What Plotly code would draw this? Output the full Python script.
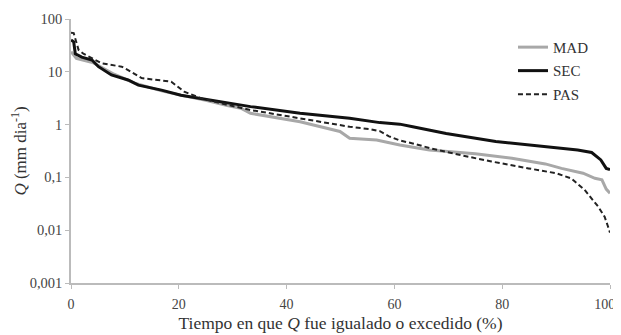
import plotly.graph_objects as go

# Percent of time Q was equalled or exceeded
sec_x = [0, 0.5, 0.8, 2, 3.9, 5.1, 7.5, 10.6, 12.5, 16.8, 20.4, 24.1, 26, 33.3, 42.5, 51.7, 57.3, 61, 63.4, 69.6, 78.8, 88, 94, 96.6, 98.3, 99.3, 100]
sec_q = [40, 37, 22, 19, 16.7, 12.5, 8.7, 7.0, 5.6, 4.5, 3.6, 3.15, 2.9, 2.19, 1.64, 1.32, 1.09, 1.02, 0.91, 0.68, 0.48, 0.38, 0.33, 0.296, 0.214, 0.148, 0.14]

mad_x = [0, 0.5, 1, 4, 8, 12, 17, 21, 25, 29, 31.5, 33.3, 42.5, 49.9, 51.7, 56.7, 61, 66.5, 75, 81.8, 88, 91, 95, 97.2, 98.5, 99.3, 100]
mad_q = [24, 21, 18, 15, 9, 6, 4.3, 3.5, 2.9, 2.3, 2.04, 1.64, 1.13, 0.74, 0.55, 0.51, 0.41, 0.33, 0.28, 0.23, 0.18, 0.148, 0.12, 0.096, 0.09, 0.06, 0.05]

pas_x = [0, 0.5, 1.4, 2.3, 5.7, 9.4, 10.6, 13.1, 18.6, 21, 24.1, 28, 33.3, 42.5, 51.7, 55.5, 57.3, 59, 61, 63.4, 67, 72.6, 78, 84.9, 90, 92.8, 95.3, 97.8, 99, 99.6, 100]
pas_q = [55, 54, 26, 22, 14.5, 12.5, 10.8, 7.6, 6.5, 4.2, 3.16, 2.5, 1.89, 1.32, 0.91, 0.82, 0.75, 0.6, 0.5, 0.44, 0.35, 0.26, 0.2, 0.148, 0.12, 0.096, 0.058, 0.028, 0.018, 0.012, 0.009]

y_tickvals = [0.001, 0.01, 0.1, 1, 10, 100]
y_ticktext = ["0,001", "0,01", "0,1", "1", "10", "100"]
x_tickvals = [0, 20, 40, 60, 80, 100]
x_ticktext = ["0", "20", "40", "60", "80", "100\u00a0\u00a0\u00a0"]

fig = go.Figure()
fig.add_trace(go.Scatter(x=mad_x, y=mad_q, mode="lines", name="MAD", legendgroup="a",
                         line=dict(color="#a8a8a8", width=3)))
fig.add_trace(go.Scatter(x=sec_x, y=sec_q, mode="lines", name="SEC", legendgroup="b",
                         line=dict(color="#111111", width=3)))
fig.add_trace(go.Scatter(x=pas_x, y=pas_q, mode="lines", name="PAS", legendgroup="c",
                         line=dict(color="#222222", width=2, dash="5px,3px")))

font_family = "Liberation Serif, Times New Roman, serif"
fig.update_layout(
    width=613, height=327,
    margin=dict(l=63, r=11, t=11, b=52, autoexpand=False),
    paper_bgcolor="white", plot_bgcolor="white",
    font=dict(family=font_family, size=14, color="#444444"),
    legend=dict(x=0.82, y=0.955, xanchor="left", yanchor="top",
                font=dict(family=font_family, size=15, color="#333333"),
                bgcolor="rgba(0,0,0,0)", tracegroupgap=1),
    showlegend=True,
)
fig.update_xaxes(range=[0, 100], tickvals=x_tickvals, ticktext=x_ticktext,
                 showgrid=False, zeroline=False,
                 automargin=False, ticklabeloverflow="allow",
                 showline=True, linecolor="#bbbbbb", linewidth=1.5,
                 ticks="outside", ticklen=4, tickcolor="#bbbbbb",
                 ticklabelstandoff=3,
                 tickfont=dict(family=font_family, size=14, color="#444444"),
                 title=dict(text="Tiempo en que <i>Q</i> fue igualado o excedido (%)",
                            font=dict(family=font_family, size=17.5, color="#333333"), standoff=6))
fig.update_yaxes(type="log", range=[-3, 2], tickvals=y_tickvals, ticktext=y_ticktext,
                 showgrid=False, zeroline=False, automargin=False,
                 showline=True, linecolor="#bbbbbb", linewidth=1.5,
                 ticks="outside", ticklen=4, tickcolor="#bbbbbb",
                 tickfont=dict(family=font_family, size=14.5, color="#444444"),
                 title=dict(text="<i>Q</i> (mm dia<sup>-1</sup>)",
                            font=dict(family=font_family, size=17, color="#333333"), standoff=3))

fig.write_html("out.html")
